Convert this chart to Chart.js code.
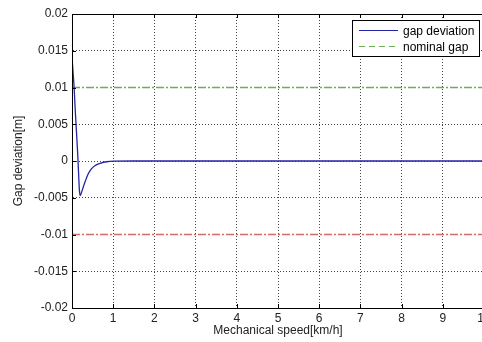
<!DOCTYPE html>
<html>
<head>
<meta charset="utf-8">
<script src="https://cdn.jsdelivr.net/npm/chart.js@4/dist/chart.umd.min.js"></script>
<style>
    html, body { margin: 0; padding: 0; background: #fff; overflow: hidden; }
    canvas { display: block; }
</style>
</head>
<body>
<canvas id="grafico" width="500" height="342"></canvas>
<script>
// Datos
const velocidad = [0, 0.02, 0.05, 0.08, 0.11, 0.14, 0.16, 0.18, 0.20, 0.23, 0.27, 0.32, 0.38, 0.44, 0.52, 0.60, 0.70, 0.84, 1.0, 1.5, 10];
const desviacion = [0.0142, 0.0125, 0.0101, 0.0068, 0.0038, 0.0008, -0.0017, -0.0040, -0.0047, -0.0043, -0.0036, -0.0028, -0.0019, -0.0013, -0.0008, -0.0005, -0.00028, -0.0001, -0.00002, 0, 0];
const rangoX = [0, 10];
const huecoNominal = [0.01, 0.01];
const huecoMinimo = [-0.01, -0.01];
const etiquetasX = ["0", "1", "2", "3", "4", "5", "6", "7", "8", "9", "10"];
const etiquetasY = ["-0.02", "-0.015", "-0.01", "-0.005", "0", "0.005", "0.01", "0.015", "0.02"];
const nombres = ["gap deviation", "nominal gap"];

const fuente = { family: "'Liberation Sans', Arial, sans-serif", size: 12 };

const puntos = (xs, ys) => xs.map((v, i) => ({ x: v, y: ys[i] }));

// rejilla punteada, salvo donde van las lineas de referencia
const colorRejilla = c => {
    const v = c.tick ? Math.abs(c.tick.value) : 0;
    return c.scale.axis === "y" && Math.abs(v - 0.01) < 1e-9 ? "rgba(0,0,0,0)" : "#444";
};

// Marco, ticks hacia dentro y leyenda estilo matlab
const marco = {
    id: "marco",
    afterDraw(chart) {
        const { ctx, chartArea: a, scales: { x, y } } = chart;
        ctx.save();
        ctx.strokeStyle = "#000";
        ctx.lineWidth = 1;
        ctx.setLineDash([]);
        ctx.strokeRect(a.left + 0.5, a.top + 0.5, a.right - a.left, a.bottom - a.top);

        ctx.beginPath();
        x.ticks.forEach(t => {
            const px = Math.round(x.getPixelForValue(t.value)) + 0.5;
            ctx.moveTo(px, a.bottom); ctx.lineTo(px, a.bottom - 4);
            ctx.moveTo(px, a.top); ctx.lineTo(px, a.top + 4);
        });
        y.ticks.forEach(t => {
            const py = Math.round(y.getPixelForValue(t.value)) + 0.5;
            ctx.moveTo(a.left, py); ctx.lineTo(a.left + 4, py);
        });
        ctx.stroke();

        // leyenda
        const lx = 352, ly = 20, lw = 127, lh = 36;
        ctx.fillStyle = "#fff";
        ctx.fillRect(lx, ly, lw, lh);
        ctx.strokeRect(lx + 0.5, ly + 0.5, lw, lh);
        ctx.font = "12px 'Liberation Sans', Arial, sans-serif";
        ctx.textBaseline = "middle";
        ctx.fillStyle = "#000";
        const estilos = [
            { color: "#2424a6", dash: [] },
            { color: "#6aae56", dash: [6, 4] }
        ];
        nombres.forEach((n, i) => {
            const yy = ly + 10 + i * 16 + 0.5;
            ctx.strokeStyle = estilos[i].color;
            ctx.setLineDash(estilos[i].dash);
            ctx.beginPath();
            ctx.moveTo(lx + 7, yy); ctx.lineTo(lx + 46, yy);
            ctx.stroke();
            ctx.fillText(n, lx + 51, yy + 1);
        });
        ctx.restore();
    }
};

new Chart(document.getElementById("grafico"), {
    type: "scatter",
    data: {
        datasets: [
            {
                label: nombres[0],
                data: puntos(velocidad, desviacion),
                showLine: true,
                borderColor: "#2424a6",
                borderWidth: 1.3,
                pointRadius: 0,
                cubicInterpolationMode: "monotone"
            },
            {
                label: nombres[1],
                data: puntos(rangoX, huecoNominal),
                showLine: true,
                borderColor: "#6aae56",
                borderWidth: 1.6,
                borderDash: [8, 2, 2, 2],
                pointRadius: 0
            },
            {
                label: "",
                data: puntos(rangoX, huecoMinimo),
                showLine: true,
                borderColor: "#d46a6a",
                borderWidth: 1.6,
                borderDash: [8, 2, 2, 2],
                pointRadius: 0
            }
        ]
    },
    options: {
        responsive: false,
        animation: false,
        layout: { padding: { top: 14, right: 16, bottom: 0, left: 0 } },
        plugins: {
            legend: { display: false },
            tooltip: { enabled: false }
        },
        scales: {
            x: {
                type: "linear",
                min: 0,
                max: 10,
                ticks: {
                    stepSize: 1,
                    color: "#222",
                    font: fuente,
                    padding: 3,
                    maxRotation: 0,
                    callback: (v, i) => etiquetasX[i]
                },
                grid: { color: colorRejilla, drawTicks: false },
                border: { display: true, color: "#000", dash: [1, 2] },
                title: {
                    display: true,
                    text: "Mechanical speed[km/h]",
                    color: "#222",
                    font: fuente,
                    padding: { top: 0, bottom: 4 }
                },
                afterFit: s => { s.height = 34; }
            },
            y: {
                min: -0.02,
                max: 0.02,
                ticks: {
                    stepSize: 0.005,
                    color: "#222",
                    font: fuente,
                    padding: 4,
                    callback: (v, i) => etiquetasY[i]
                },
                grid: { color: colorRejilla, drawTicks: false },
                border: { display: true, color: "#000", dash: [1, 2] },
                title: {
                    display: true,
                    text: "Gap deviation[m]",
                    color: "#222",
                    font: fuente,
                    padding: { top: 11, bottom: 0 }
                },
                afterFit: s => { s.width = 72; }
            }
        }
    },
    plugins: [marco]
});
</script>
</body>
</html>
